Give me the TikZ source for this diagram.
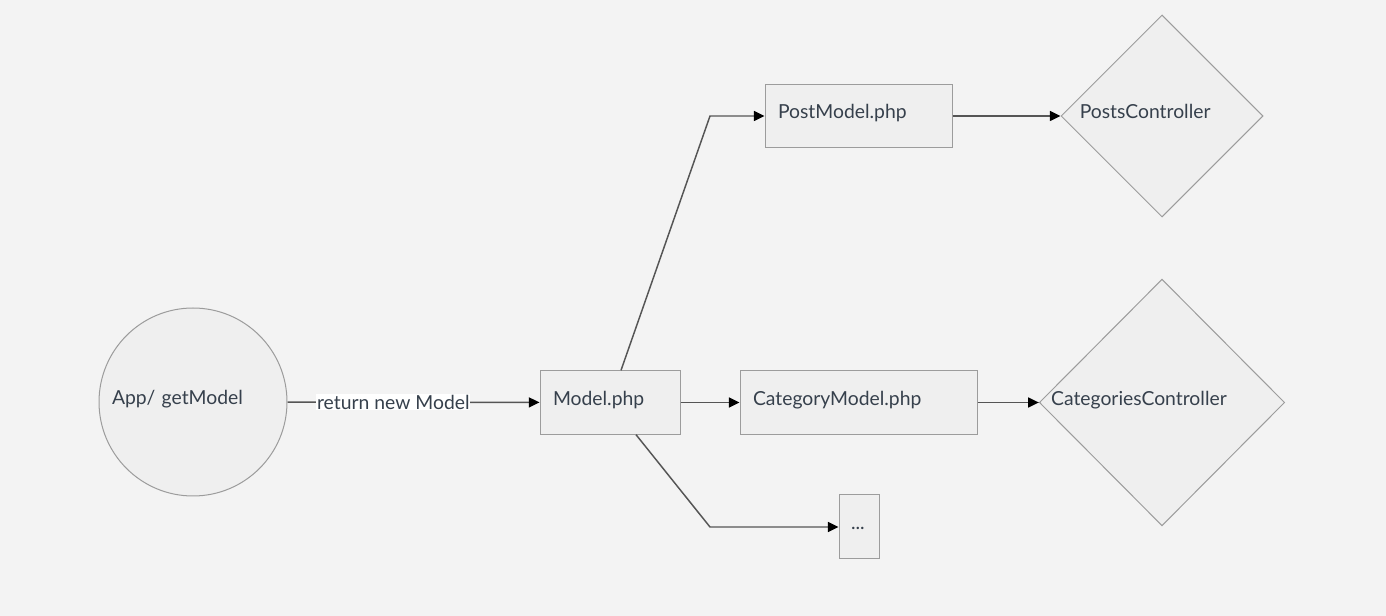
\documentclass[tikz,border=0pt]{standalone}
\usepackage{fontspec}
\setmainfont{Lato}
\usepackage{tikz}
\usetikzlibrary{calc,shapes.geometric,arrows.meta}
\usepackage{xcolor}
\definecolor{bgcol}{HTML}{F3F3F3}
\definecolor{shapecol}{HTML}{EFEFEF}
\definecolor{edgecol}{HTML}{9C9C9C}
\definecolor{linecol}{HTML}{555555}
\definecolor{txtcol}{HTML}{36404C}

\tikzset{
  box/.style={draw=edgecol, fill=shapecol, line width=0.75pt, rectangle, align=left,
    inner xsep=9.75pt, inner ysep=0pt, minimum height=47.5pt, text=txtcol,
    text height=10pt, text depth=5.5pt},
  dia/.style={draw=edgecol, fill=shapecol, line width=0.75pt, diamond, inner sep=0pt},
  conn/.style={draw=linecol, line width=1.1pt, -{Triangle[length=8pt,width=7.5pt,color=black]}},
}

\begin{document}
\begin{tikzpicture}[x=0.75pt, y=-0.75pt, font=\fontsize{14.5}{17}\selectfont]
\fill [bgcol] (0,0) rectangle (1386,616);
\useasboundingbox (0,0) rectangle (1386,616);

\node [draw=edgecol, fill=shapecol, line width=0.75pt, circle, minimum size=141pt,
  text width=121.5pt, align=left, text=txtcol, text height=10pt, text depth=5.5pt] (app) at (193,402) {App/ getModel};
\node [box, text width=85.5pt] (m) at (610,402.5) {Model.php};
\node [box, text width=120.75pt] (pm) at (858.5,116) {PostModel.php};
\node [box, text width=158.25pt] (cm) at (858.5,402.5) {CategoryModel.php};
\node [box, text width=12pt, inner xsep=9pt, minimum height=48pt] (dots) at (859,527) {...};

\node [dia, minimum width=151.5pt, minimum height=151.5pt] (pc) at (1162,116) {};
\node [text=txtcol, anchor=base west, inner sep=0pt] (pctxt) at ($(pc.west)+(19,3)$) {PostsController};
\node [dia, minimum width=184pt, minimum height=185pt] (cc) at (1162,402.5) {};
\node [text=txtcol, anchor=base west, inner sep=0pt] (cctxt) at ($(cc.west)+(12,3)$) {CategoriesController};

\draw [conn] (app) -- node [pos=0.42, fill=white, inner sep=0.5pt, text=txtcol] (lbl) {return new Model} (m);
\coordinate (b1) at (710,116);
\coordinate (b2) at (710,527);
\draw [conn] ($(m.north)+(11,0)$) -- (b1) -- (pm.west);
\draw [conn] (m) -- (cm);
\draw [conn] ($(m.south)+(26,0)$) -- (b2) -- (dots.west);
\draw [conn] (pm) -- (pc);
\draw [conn] (cm) -- (cc);
\end{tikzpicture}
\end{document}
